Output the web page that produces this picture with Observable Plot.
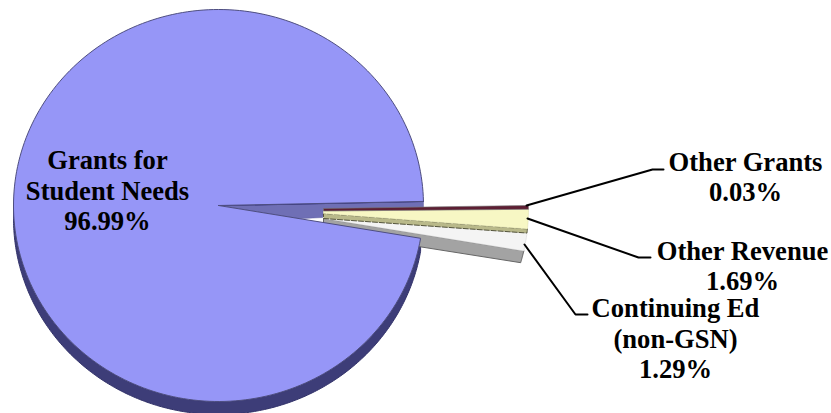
<!DOCTYPE html>
<html>
<head>
<meta charset="utf-8">
<script src="https://cdn.jsdelivr.net/npm/d3@7"></script>
<script src="https://cdn.jsdelivr.net/npm/@observablehq/plot@0.6"></script>
<style>html,body{margin:0;background:#fff}svg{display:block}</style>
</head>
<body>
<script>
// Revenue shares, in percent
const categories = ["Grants for Student Needs", "Other Grants", "Other Revenue", "Continuing Ed (non-GSN)"];
const shares = [96.99, 0.03, 1.69, 1.29];

const width = 831, height = 413;
const rad = Math.PI / 180, degPerPct = 3.6;

// Main disc, seen slightly from above, with its wedge opening to the right
const disc = {cx: 218, cy: 205, rx: 205, ry: 196, depth: 13, apex: [218, 205], gapStart: -1.2};
const gap = (100 - shares[0]) * degPerPct;
const gapEnd = disc.gapStart + gap;
const rim = (t, dy = 0) => [disc.cx + disc.rx * Math.cos(t * rad), disc.cy + disc.ry * Math.sin(t * rad) + dy];
const rimArc = (from, to, dy = 0) => d3.range(0, 241).map((i) => rim(from + ((to - from) * i) / 240, dy));

const face = [disc.apex, ...rimArc(gapEnd, disc.gapStart + 360)];
const side = [...rimArc(gapEnd, 180), ...rimArc(180, gapEnd, disc.depth)];

// Wall of the opening, seen behind the pulled-out slices
const fromApex = (t, r) => [disc.apex[0] + r * Math.cos(t * rad), disc.apex[1] + r * 0.95 * Math.sin(t * rad)];
const wall = [disc.apex, rim(disc.gapStart), rim(disc.gapStart, 7), fromApex(3, 105), fromApex(gap - 3.9, 105), fromApex(gap - 1, 81)];
const gapLine = [disc.apex, rim(disc.gapStart)];

// Pulled-out slices: the fan is cut off on its inner side by the opening of the disc
const out = {x: 255, y: 209, r: 273, tilt: 0.82, cut: 323};
const onOut = (t) => [out.x + out.r * Math.cos(t * rad), out.y + out.r * out.tilt * Math.sin(t * rad)];
function band(a, b, innerTop, innerBottom) {
  const arc = d3.range(0, 13).map((i) => onOut(a + ((b - a) * i) / 12));
  return [...arc, [out.cut, innerBottom], [out.cut, innerTop]];
}
const a0 = -1.03;
const a1 = a0 + shares[1] * degPerPct;
const grantsWall = 0.87;
const a2 = a1 + grantsWall + shares[2] * degPerPct;
const a3 = a2 + shares[3] * degPerPct;
const revenueWall = 1.04, continuingWall = 3.07;

const otherGrants = band(a0, a1 + grantsWall, 208, 210.5);
const otherRevenue = band(a1 + grantsWall, a2 - revenueWall, 210.5, 213);
const otherRevenueSide = band(a2 - revenueWall, a2, 213, 218);
const continuing = band(a2, a3, 218, 218);
const continuingSide = band(a3, a3 + continuingWall, 218, 231);

// Leader lines and their labels
const leaders = [
  [[526, 205], [652, 169], [663, 169]],
  [[527, 218], [638, 257], [650, 257]],
  [[524, 244], [575, 314], [587, 314]]
];
const labels = [
  {text: "Grants for\nStudent Needs\n96.99%", x: 107, y: 189.5},
  {text: "Other Grants\n0.03%", x: 745, y: 175.5},
  {text: "Other Revenue\n1.69%", x: 742, y: 264.5},
  {text: "Continuing Ed\n(non-GSN)\n1.29%", x: 675, y: 337.5}
];

const poly = (pts, o) => Plot.line([...pts, pts[0]], {x: (d) => d[0], y: (d) => d[1], curve: "linear", ...o});

document.body.append(Plot.plot({
  width, height,
  margin: 0,
  x: {domain: [0, width], range: [0, width], axis: null},
  y: {domain: [0, height], range: [0, height], axis: null},
  style: {background: "#fff"},
  marks: [
    poly(side, {fill: "#3d3d78", stroke: "#33336a", strokeWidth: 1}),
    poly(wall, {fill: "#6f6fb5", stroke: "#5a5aa0", strokeWidth: 0.5}),
    Plot.line(gapLine, {x: (d) => d[0], y: (d) => d[1], stroke: "#2a2a70", strokeWidth: 1.2}),
    poly(continuingSide, {fill: "#a3a3a3", stroke: "#666", strokeWidth: 1}),
    poly(continuing, {fill: "#f4f4f4", stroke: "#d8d8d8", strokeWidth: 0.6}),
    poly(otherRevenueSide, {fill: "#b9b98a", stroke: "#55553c", strokeWidth: 1, strokeDasharray: "5 2"}),
    poly(otherRevenue, {fill: "#f7f7c4", stroke: "#d8d8a8", strokeWidth: 0.5}),
    poly(otherGrants, {fill: "#5d1f33", stroke: "#777", strokeWidth: 0.6}),
    // The disc's face sits in front of the lower slice wall
    poly(face, {fill: "#9696f7", stroke: "#4e4e80", strokeWidth: 1}),
    ...leaders.map((l) => Plot.line(l, {x: (d) => d[0], y: (d) => d[1], stroke: "#000", strokeWidth: 2})),
    Plot.text(labels, {
      x: "x", y: "y", text: "text",
      fontFamily: "Liberation Serif", fontWeight: "bold", fontSize: 26.6,
      lineHeight: 1.147, fill: "#000", textAnchor: "middle", lineAnchor: "middle"
    })
  ]
}));
</script>
</body>
</html>
